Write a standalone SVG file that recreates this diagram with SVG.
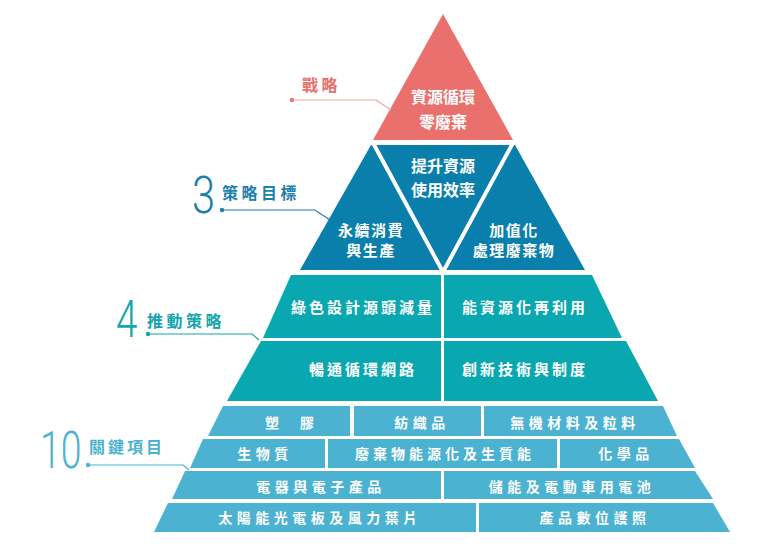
<svg xmlns="http://www.w3.org/2000/svg" width="767" height="550" viewBox="0 0 767 550">
<style>
.t{font-family:"Noto Sans CJK TC","Noto Sans CJK SC",sans-serif;font-weight:700;fill:#fff;text-anchor:middle}
.m{font-size:16px}
.n{font-size:15px;letter-spacing:1.5px}
.s{font-size:15px;letter-spacing:3px}
.b{font-size:14px;letter-spacing:4.5px}
.lab{font-family:"Noto Sans CJK TC","Noto Sans CJK SC",sans-serif;font-weight:700;font-size:16px;letter-spacing:3.5px}
.num{font-family:"Roboto","Liberation Sans",sans-serif;font-weight:300;font-size:52px}
.red{fill:#E9706D}.blue{fill:#0B7FAB}.teal{fill:#09A8B0}.lb{fill:#4BB2D2}
.ln{fill:none;stroke-width:1.2}
</style>
<rect width="767" height="550" fill="#fff"/>
<g id="strategy">
<polygon class="red" points="443,14 373,140 513,140"/>
<text class="t m" x="443" y="103">資源循環</text>
<text class="t m" x="443" y="128">零廢棄</text>
</g>
<g id="goals">
<polygon class="blue" points="371,145 515,145 585,270 300,270"/>
<polyline points="372,141 443,272 514,141" fill="none" stroke="#fff" stroke-width="4"/>
<text class="t m" x="443" y="172">提升資源</text>
<text class="t m" x="443" y="196">使用效率</text>
<text class="t n" x="371" y="236">永續消費</text>
<text class="t n" x="371" y="256">與生產</text>
<text class="t n" x="514" y="236">加值化</text>
<text class="t n" x="514" y="256">處理廢棄物</text>
</g>
<g id="drivers">
<polygon class="teal" points="291,275 441,275 441,338 263,338"/>
<polygon class="teal" points="444,275 592,275 622,338 444,338"/>
<polygon class="teal" points="261,341 441,341 441,401 227,401"/>
<polygon class="teal" points="444,341 626,341 658,401 444,401"/>
<text class="t s" x="363" y="313">綠色設計源頭減量</text>
<text class="t s" x="525" y="313">能資源化再利用</text>
<text class="t s" x="363" y="375">暢通循環網路</text>
<text class="t s" x="525" y="375">創新技術與制度</text>
</g>
<g id="items">
<polygon class="lb" points="223,406 350,406 350,436 208,436"/>
<polygon class="lb" points="354,406 481,406 481,436 354,436"/>
<polygon class="lb" points="484,406 663,406 677,436 484,436"/>
<polygon class="lb" points="203,439 325,439 325,468 190,468"/>
<polygon class="lb" points="328,439 557,439 557,468 328,468"/>
<polygon class="lb" points="560,439 679,439 695,468 560,468"/>
<polygon class="lb" points="185,471 441,471 441,499 172,499"/>
<polygon class="lb" points="444,471 695,471 713,499 444,499"/>
<polygon class="lb" points="168,503 476,503 476,532 154,532"/>
<polygon class="lb" points="479,503 713,503 730,532 479,532"/>
<text class="t b" x="294" y="428" style="letter-spacing:9px">塑 膠</text>
<text class="t b" x="422" y="428">紡織品</text>
<text class="t b" x="575" y="428">無機材料及粒料</text>
<text class="t b" x="265" y="459">生物質</text>
<text class="t" style="font-size:14px;letter-spacing:4px" x="445" y="459">廢棄物能源化及生質能</text>
<text class="t b" x="626" y="459">化學品</text>
<text class="t b" x="321" y="492">電器與電子產品</text>
<text class="t b" x="572" y="492">儲能及電動車用電池</text>
<text class="t b" x="320" y="523">太陽能光電板及風力葉片</text>
<text class="t b" x="595" y="523">產品數位護照</text>
</g>
<g id="labels">
<text class="lab" x="302" y="91" fill="#E9706D">戰略</text>
<text class="num" transform="translate(192,213) scale(0.8,1)" fill="#1C7FAE">3</text>
<text class="lab" x="222" y="199" fill="#1C7FAE">策略目標</text>
<text class="num" transform="translate(116,337) scale(0.74,1)" fill="#13A5AE">4</text>
<text class="lab" x="147" y="327" fill="#13A5AE">推動策略</text>
<text class="num" transform="translate(40,468) scale(0.72,1)" fill="#4BB2D2">10</text>
<text class="lab" x="89" y="453" fill="#4BB2D2" style="letter-spacing:3px">關鍵項目</text>
</g>
<g id="connectors">
<circle cx="292" cy="100" r="2.2" fill="#E9706D"/>
<polyline class="ln" points="292,100 376,100 391,110" stroke="#F2A3A0"/>
<circle cx="222" cy="210" r="2.2" fill="#1C7FAE"/>
<polyline class="ln" points="222,210 315,210 330,220" stroke="#1C7FAE"/>
<circle cx="148" cy="334" r="2.2" fill="#13A5AE"/>
<polyline class="ln" points="148,334 252,334 259,340" stroke="#13A5AE"/>
<circle cx="88" cy="465" r="2.2" fill="#4BB2D2"/>
<polyline class="ln" points="88,465 183,465 189,470" stroke="#4BB2D2"/>
</g>
</svg>
